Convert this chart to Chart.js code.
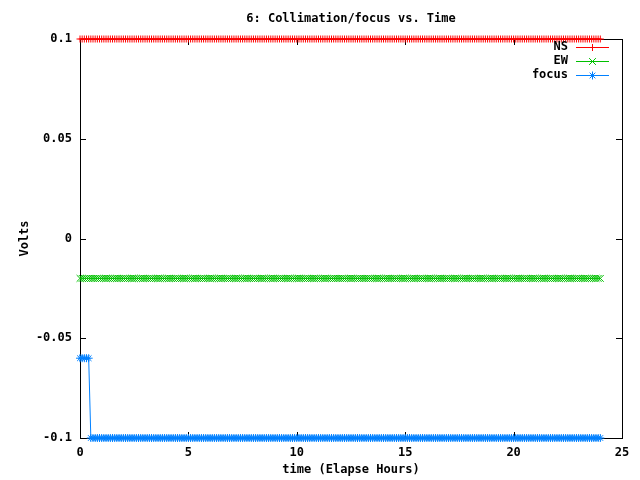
<!DOCTYPE html>
<html>
<head>
<meta charset="utf-8">
<script src="https://cdn.jsdelivr.net/npm/chart.js@4"></script>
<style>
  body { margin: 0; background: #fff; }
  canvas { display: block; }
</style>
</head>
<body>
<canvas id="chart" width="640" height="480"></canvas>
<script>
// data (time in hours, values in volts)
const timeHours = [
  0,0.1,0.2,0.3,0.4,0.5,0.6,0.7,0.8,0.9,
  1,1.1,1.2,1.3,1.4,1.5,1.6,1.7,1.8,1.9,
  2,2.1,2.2,2.3,2.4,2.5,2.6,2.7,2.8,2.9,
  3,3.1,3.2,3.3,3.4,3.5,3.6,3.7,3.8,3.9,
  4,4.1,4.2,4.3,4.4,4.5,4.6,4.7,4.8,4.9,
  5,5.1,5.2,5.3,5.4,5.5,5.6,5.7,5.8,5.9,
  6,6.1,6.2,6.3,6.4,6.5,6.6,6.7,6.8,6.9,
  7,7.1,7.2,7.3,7.4,7.5,7.6,7.7,7.8,7.9,
  8,8.1,8.2,8.3,8.4,8.5,8.6,8.7,8.8,8.9,
  9,9.1,9.2,9.3,9.4,9.5,9.6,9.7,9.8,9.9,
  10,10.1,10.2,10.3,10.4,10.5,10.6,10.7,10.8,10.9,
  11,11.1,11.2,11.3,11.4,11.5,11.6,11.7,11.8,11.9,
  12,12.1,12.2,12.3,12.4,12.5,12.6,12.7,12.8,12.9,
  13,13.1,13.2,13.3,13.4,13.5,13.6,13.7,13.8,13.9,
  14,14.1,14.2,14.3,14.4,14.5,14.6,14.7,14.8,14.9,
  15,15.1,15.2,15.3,15.4,15.5,15.6,15.7,15.8,15.9,
  16,16.1,16.2,16.3,16.4,16.5,16.6,16.7,16.8,16.9,
  17,17.1,17.2,17.3,17.4,17.5,17.6,17.7,17.8,17.9,
  18,18.1,18.2,18.3,18.4,18.5,18.6,18.7,18.8,18.9,
  19,19.1,19.2,19.3,19.4,19.5,19.6,19.7,19.8,19.9,
  20,20.1,20.2,20.3,20.4,20.5,20.6,20.7,20.8,20.9,
  21,21.1,21.2,21.3,21.4,21.5,21.6,21.7,21.8,21.9,
  22,22.1,22.2,22.3,22.4,22.5,22.6,22.7,22.8,22.9,
  23,23.1,23.2,23.3,23.4,23.5,23.6,23.7,23.8,23.9,
  24
];
const nsValues = [
  0.1,0.1,0.1,0.1,0.1,0.1,0.1,0.1,0.1,0.1,
  0.1,0.1,0.1,0.1,0.1,0.1,0.1,0.1,0.1,0.1,
  0.1,0.1,0.1,0.1,0.1,0.1,0.1,0.1,0.1,0.1,
  0.1,0.1,0.1,0.1,0.1,0.1,0.1,0.1,0.1,0.1,
  0.1,0.1,0.1,0.1,0.1,0.1,0.1,0.1,0.1,0.1,
  0.1,0.1,0.1,0.1,0.1,0.1,0.1,0.1,0.1,0.1,
  0.1,0.1,0.1,0.1,0.1,0.1,0.1,0.1,0.1,0.1,
  0.1,0.1,0.1,0.1,0.1,0.1,0.1,0.1,0.1,0.1,
  0.1,0.1,0.1,0.1,0.1,0.1,0.1,0.1,0.1,0.1,
  0.1,0.1,0.1,0.1,0.1,0.1,0.1,0.1,0.1,0.1,
  0.1,0.1,0.1,0.1,0.1,0.1,0.1,0.1,0.1,0.1,
  0.1,0.1,0.1,0.1,0.1,0.1,0.1,0.1,0.1,0.1,
  0.1,0.1,0.1,0.1,0.1,0.1,0.1,0.1,0.1,0.1,
  0.1,0.1,0.1,0.1,0.1,0.1,0.1,0.1,0.1,0.1,
  0.1,0.1,0.1,0.1,0.1,0.1,0.1,0.1,0.1,0.1,
  0.1,0.1,0.1,0.1,0.1,0.1,0.1,0.1,0.1,0.1,
  0.1,0.1,0.1,0.1,0.1,0.1,0.1,0.1,0.1,0.1,
  0.1,0.1,0.1,0.1,0.1,0.1,0.1,0.1,0.1,0.1,
  0.1,0.1,0.1,0.1,0.1,0.1,0.1,0.1,0.1,0.1,
  0.1,0.1,0.1,0.1,0.1,0.1,0.1,0.1,0.1,0.1,
  0.1,0.1,0.1,0.1,0.1,0.1,0.1,0.1,0.1,0.1,
  0.1,0.1,0.1,0.1,0.1,0.1,0.1,0.1,0.1,0.1,
  0.1,0.1,0.1,0.1,0.1,0.1,0.1,0.1,0.1,0.1,
  0.1,0.1,0.1,0.1,0.1,0.1,0.1,0.1,0.1,0.1,
  0.1
];
const ewValues = [
  -0.02,-0.02,-0.02,-0.02,-0.02,-0.02,-0.02,-0.02,-0.02,-0.02,
  -0.02,-0.02,-0.02,-0.02,-0.02,-0.02,-0.02,-0.02,-0.02,-0.02,
  -0.02,-0.02,-0.02,-0.02,-0.02,-0.02,-0.02,-0.02,-0.02,-0.02,
  -0.02,-0.02,-0.02,-0.02,-0.02,-0.02,-0.02,-0.02,-0.02,-0.02,
  -0.02,-0.02,-0.02,-0.02,-0.02,-0.02,-0.02,-0.02,-0.02,-0.02,
  -0.02,-0.02,-0.02,-0.02,-0.02,-0.02,-0.02,-0.02,-0.02,-0.02,
  -0.02,-0.02,-0.02,-0.02,-0.02,-0.02,-0.02,-0.02,-0.02,-0.02,
  -0.02,-0.02,-0.02,-0.02,-0.02,-0.02,-0.02,-0.02,-0.02,-0.02,
  -0.02,-0.02,-0.02,-0.02,-0.02,-0.02,-0.02,-0.02,-0.02,-0.02,
  -0.02,-0.02,-0.02,-0.02,-0.02,-0.02,-0.02,-0.02,-0.02,-0.02,
  -0.02,-0.02,-0.02,-0.02,-0.02,-0.02,-0.02,-0.02,-0.02,-0.02,
  -0.02,-0.02,-0.02,-0.02,-0.02,-0.02,-0.02,-0.02,-0.02,-0.02,
  -0.02,-0.02,-0.02,-0.02,-0.02,-0.02,-0.02,-0.02,-0.02,-0.02,
  -0.02,-0.02,-0.02,-0.02,-0.02,-0.02,-0.02,-0.02,-0.02,-0.02,
  -0.02,-0.02,-0.02,-0.02,-0.02,-0.02,-0.02,-0.02,-0.02,-0.02,
  -0.02,-0.02,-0.02,-0.02,-0.02,-0.02,-0.02,-0.02,-0.02,-0.02,
  -0.02,-0.02,-0.02,-0.02,-0.02,-0.02,-0.02,-0.02,-0.02,-0.02,
  -0.02,-0.02,-0.02,-0.02,-0.02,-0.02,-0.02,-0.02,-0.02,-0.02,
  -0.02,-0.02,-0.02,-0.02,-0.02,-0.02,-0.02,-0.02,-0.02,-0.02,
  -0.02,-0.02,-0.02,-0.02,-0.02,-0.02,-0.02,-0.02,-0.02,-0.02,
  -0.02,-0.02,-0.02,-0.02,-0.02,-0.02,-0.02,-0.02,-0.02,-0.02,
  -0.02,-0.02,-0.02,-0.02,-0.02,-0.02,-0.02,-0.02,-0.02,-0.02,
  -0.02,-0.02,-0.02,-0.02,-0.02,-0.02,-0.02,-0.02,-0.02,-0.02,
  -0.02,-0.02,-0.02,-0.02,-0.02,-0.02,-0.02,-0.02,-0.02,-0.02,
  -0.02
];
const focusValues = [
  -0.06,-0.06,-0.06,-0.06,-0.06,-0.1,-0.1,-0.1,-0.1,-0.1,
  -0.1,-0.1,-0.1,-0.1,-0.1,-0.1,-0.1,-0.1,-0.1,-0.1,
  -0.1,-0.1,-0.1,-0.1,-0.1,-0.1,-0.1,-0.1,-0.1,-0.1,
  -0.1,-0.1,-0.1,-0.1,-0.1,-0.1,-0.1,-0.1,-0.1,-0.1,
  -0.1,-0.1,-0.1,-0.1,-0.1,-0.1,-0.1,-0.1,-0.1,-0.1,
  -0.1,-0.1,-0.1,-0.1,-0.1,-0.1,-0.1,-0.1,-0.1,-0.1,
  -0.1,-0.1,-0.1,-0.1,-0.1,-0.1,-0.1,-0.1,-0.1,-0.1,
  -0.1,-0.1,-0.1,-0.1,-0.1,-0.1,-0.1,-0.1,-0.1,-0.1,
  -0.1,-0.1,-0.1,-0.1,-0.1,-0.1,-0.1,-0.1,-0.1,-0.1,
  -0.1,-0.1,-0.1,-0.1,-0.1,-0.1,-0.1,-0.1,-0.1,-0.1,
  -0.1,-0.1,-0.1,-0.1,-0.1,-0.1,-0.1,-0.1,-0.1,-0.1,
  -0.1,-0.1,-0.1,-0.1,-0.1,-0.1,-0.1,-0.1,-0.1,-0.1,
  -0.1,-0.1,-0.1,-0.1,-0.1,-0.1,-0.1,-0.1,-0.1,-0.1,
  -0.1,-0.1,-0.1,-0.1,-0.1,-0.1,-0.1,-0.1,-0.1,-0.1,
  -0.1,-0.1,-0.1,-0.1,-0.1,-0.1,-0.1,-0.1,-0.1,-0.1,
  -0.1,-0.1,-0.1,-0.1,-0.1,-0.1,-0.1,-0.1,-0.1,-0.1,
  -0.1,-0.1,-0.1,-0.1,-0.1,-0.1,-0.1,-0.1,-0.1,-0.1,
  -0.1,-0.1,-0.1,-0.1,-0.1,-0.1,-0.1,-0.1,-0.1,-0.1,
  -0.1,-0.1,-0.1,-0.1,-0.1,-0.1,-0.1,-0.1,-0.1,-0.1,
  -0.1,-0.1,-0.1,-0.1,-0.1,-0.1,-0.1,-0.1,-0.1,-0.1,
  -0.1,-0.1,-0.1,-0.1,-0.1,-0.1,-0.1,-0.1,-0.1,-0.1,
  -0.1,-0.1,-0.1,-0.1,-0.1,-0.1,-0.1,-0.1,-0.1,-0.1,
  -0.1,-0.1,-0.1,-0.1,-0.1,-0.1,-0.1,-0.1,-0.1,-0.1,
  -0.1,-0.1,-0.1,-0.1,-0.1,-0.1,-0.1,-0.1,-0.1,-0.1,
  -0.1
];
const seriesNames = ['NS', 'EW', 'focus'];
const xTicks = [0, 5, 10, 15, 20, 25];
const yTicks = [-0.1, -0.05, 0, 0.05, 0.1];
const yTickLabels = ['-0.1', '-0.05', '0', '0.05', '0.1'];

const colors = ['#ff0000', '#00c000', '#0080ff'];
const styles = ['cross', 'crossRot', 'star'];
const radii = [3.5, 4.8, 4];
const FONT = 'bold 12px "DejaVu Sans Mono", monospace';

function pts(vals) {
  return timeHours.map(function (t, i) { return { x: t, y: vals[i] }; });
}

// gnuplot look: full box, inward ticks on all sides, titles, key at top right
const gnuplotFrame = {
  id: 'gnuplotFrame',
  beforeDatasetsDraw: function (chart) {
    const c = chart.ctx, a = chart.chartArea;
    const xs = chart.scales.x, ys = chart.scales.y;
    c.save();
    c.strokeStyle = '#000';
    c.lineWidth = 1;
    c.strokeRect(Math.round(a.left) + 0.5, Math.round(a.top) + 0.5,
      Math.round(a.right - a.left), Math.round(a.bottom - a.top));
    c.beginPath();
    xTicks.forEach(function (v) {
      const px = Math.round(xs.getPixelForValue(v)) + 0.5;
      c.moveTo(px, a.bottom); c.lineTo(px, a.bottom - 6);
      c.moveTo(px, a.top); c.lineTo(px, a.top + 6);
    });
    yTicks.forEach(function (v) {
      const py = Math.round(ys.getPixelForValue(v)) + 0.5;
      c.moveTo(a.left, py); c.lineTo(a.left + 6, py);
      c.moveTo(a.right, py); c.lineTo(a.right - 6, py);
    });
    c.stroke();
    c.restore();
  },
  afterDraw: function (chart) {
    const c = chart.ctx, a = chart.chartArea;
    c.save();
    c.fillStyle = '#000';
    c.font = FONT;
    c.textAlign = 'center';
    c.textBaseline = 'middle';
    c.fillText('6: Collimation/focus vs. Time', (a.left + a.right) / 2, 19);
    c.fillText('time (Elapse Hours)', (a.left + a.right) / 2, 470);
    c.save();
    c.translate(25, (a.top + a.bottom) / 2);
    c.rotate(-Math.PI / 2);
    c.fillText('Volts', 0, 0);
    c.restore();
    // key
    seriesNames.forEach(function (name, i) {
      const y = 47 + i * 14;
      c.fillStyle = '#000';
      c.textAlign = 'right';
      c.fillText(name, 568, y);
      c.fillStyle = colors[i];
      c.fillRect(576, y, 33, 1);
      c.strokeStyle = colors[i];
      c.lineWidth = 1;
      Chart.helpers.drawPoint(c, { pointStyle: styles[i], radius: radii[i], borderWidth: 1 }, 592.5, y + 0.5);
    });
    c.restore();
  }
};

const tickFont = { family: '"DejaVu Sans Mono"', size: 12, weight: 'bold' };

new Chart(document.getElementById('chart').getContext('2d'), {
  type: 'line',
  data: {
    datasets: [nsValues, ewValues, focusValues].map(function (vals, i) {
      return {
        label: seriesNames[i],
        data: pts(vals),
        borderColor: colors[i],
        backgroundColor: colors[i],
        pointBorderColor: colors[i],
        pointStyle: styles[i],
        pointRadius: radii[i],
        borderWidth: 1,
        pointBorderWidth: 1,
        tension: 0,
        fill: false,
        clip: false
      };
    })
  },
  options: {
    responsive: false,
    animation: false,
    layout: { padding: { top: 39, right: 18, bottom: 0, left: 0 } },
    plugins: { legend: { display: false }, tooltip: { enabled: false }, title: { display: false } },
    scales: {
      x: {
        type: 'linear', min: 0, max: 25,
        afterBuildTicks: function (s) { s.ticks = xTicks.map(function (v) { return { value: v }; }); },
        afterFit: function (s) { s.height = 42; },
        grid: { display: false, drawTicks: false },
        border: { display: false },
        ticks: { color: '#000', font: tickFont, padding: 8, maxRotation: 0 }
      },
      y: {
        type: 'linear', min: -0.1, max: 0.1,
        afterBuildTicks: function (s) { s.ticks = yTicks.map(function (v) { return { value: v }; }); },
        afterFit: function (s) { s.width = 80; },
        grid: { display: false, drawTicks: false },
        border: { display: false },
        ticks: {
          color: '#000', font: tickFont, padding: 8,
          callback: function (v, i) { return yTickLabels[i]; }
        }
      }
    }
  },
  plugins: [gnuplotFrame]
});
</script>
</body>
</html>
